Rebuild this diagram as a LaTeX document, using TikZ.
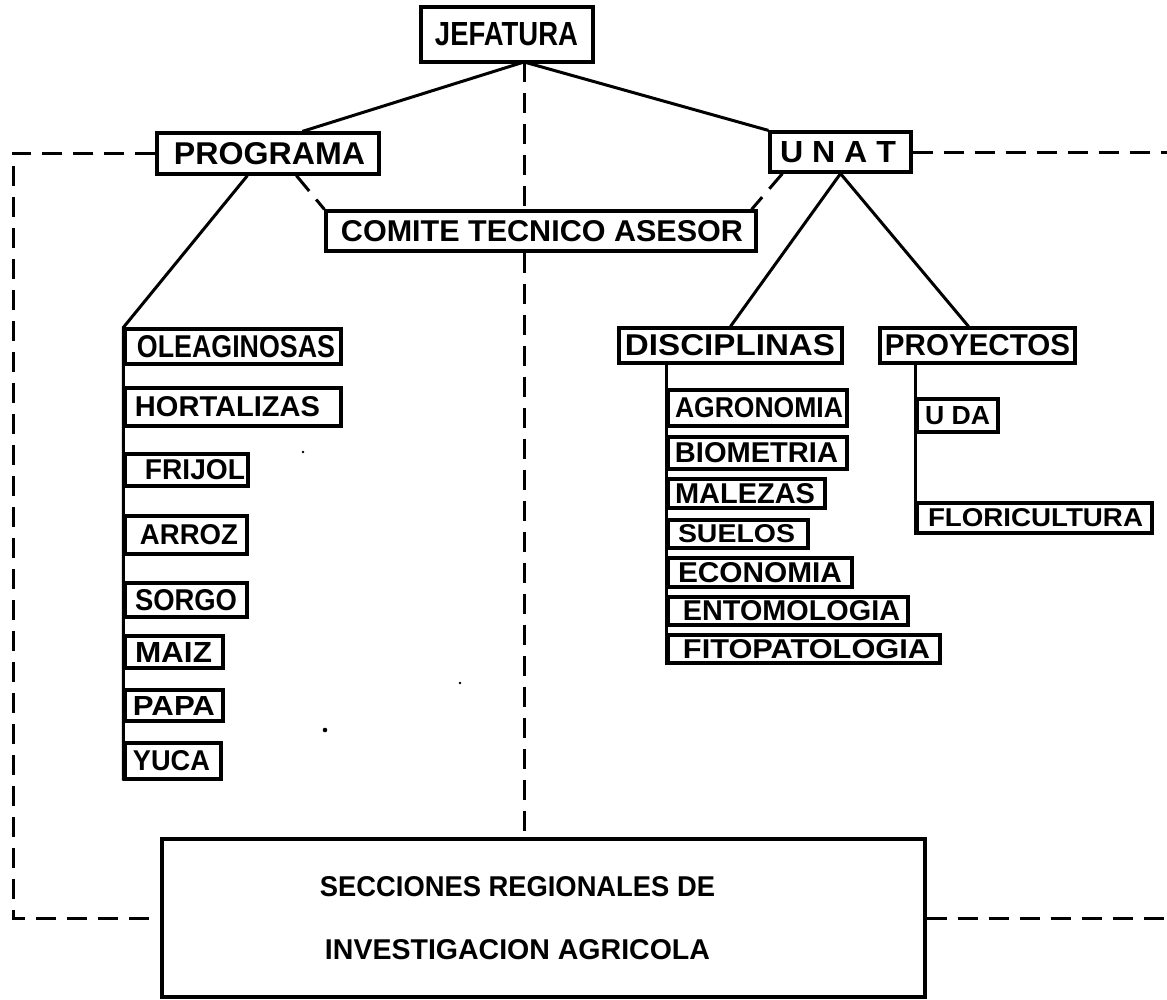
\documentclass[tikz,border=0pt]{standalone}
\usepackage{fontspec}
\setmainfont{Liberation Sans}
\usepackage{graphicx}
\usetikzlibrary{calc}
\tikzset{
  bxs/.style={draw, rectangle, line width=3.2pt, inner sep=0pt, fill=white, font=\bfseries},
  ln/.style={line width=3pt},
  dsh/.style={line width=3pt, dash pattern=on 20pt off 11pt},
}
% name, x1, y1, x2, y2, text-left, text-right, cap height, text
\newcommand\bx[9]{%
  \pgfmathsetmacro\bxcx{(#2+#4)/2}%
  \pgfmathsetmacro\bxcy{(#3+#5)/2}%
  \pgfmathsetmacro\bxw{#4-#2}%
  \pgfmathsetmacro\bxh{#5-#3}%
  \pgfmathsetmacro\bxtw{#7-#6}%
  \pgfmathsetmacro\bxa{2*(#6-\bxcx)+\bxtw}%
  \node[bxs, minimum width=\bxw pt, minimum height=\bxh pt] (#1) at (\bxcx,\bxcy)
    {\hspace*{\bxa pt}\resizebox{\bxtw pt}{#8pt}{#9}};%
}
\begin{document}
\begin{tikzpicture}[x=1pt,y=-1pt]
\useasboundingbox (0,0) rectangle (1167,999);

% top level
\bx{jef}{421}{7}{593}{62}{435}{578}{23}{JEFATURA}
\bx{prog}{157}{133}{379}{174}{174}{365}{22}{PROGRAMA}
\bx{unat}{770}{132}{911}{172}{780}{896}{21}{U N A T}
\bx{comite}{326}{211}{756}{251}{341}{743}{21}{COMITE TECNICO ASESOR}
\bx{disc}{619}{328}{842}{363}{625}{835}{21}{DISCIPLINAS}
\bx{proy}{880}{328}{1075}{363}{885}{1070}{21}{PROYECTOS}

% programa items
\bx{ole}{125}{329}{341}{364}{137}{335}{22}{OLEAGINOSAS}
\bx{hort}{125}{388}{341}{426}{135}{320}{20}{HORTALIZAS}
\bx{frij}{125}{454}{248}{486}{145}{245}{20}{FRIJOL}
\bx{arroz}{125}{516}{247}{554}{140}{238}{20}{ARROZ}
\bx{sorgo}{125}{583}{247}{617}{135}{237}{21}{SORGO}
\bx{maiz}{125}{636}{223}{668}{135}{212}{20}{MAIZ}
\bx{papa}{125}{690}{223}{721}{133}{215}{19}{PAPA}
\bx{yuca}{125}{743}{221}{779}{133}{210}{20}{YUCA}

% disciplinas items
\bx{agro}{668}{390}{847}{426}{675}{843}{20}{AGRONOMIA}
\bx{bio}{668}{437}{847}{469}{675}{838}{20}{BIOMETRIA}
\bx{mal}{668}{479}{825}{508}{675}{815}{20}{MALEZAS}
\bx{suel}{668}{520}{808}{548}{678}{795}{18}{SUELOS}
\bx{eco}{668}{558}{852}{587}{678}{842}{20}{ECONOMIA}
\bx{ento}{668}{597}{908}{625}{683}{900}{20}{ENTOMOLOGIA}
\bx{fito}{668}{635}{940}{663}{683}{930}{19}{FITOPATOLOGIA}

% proyectos items
\bx{uda}{917}{399}{998}{432}{925}{990}{18}{U DA}
\bx{flor}{917}{503}{1152}{533}{928}{1143}{18}{FLORICULTURA}

% regional sections
\node[bxs, minimum width=763pt, minimum height=158pt, align=center,
      font=\bfseries\fontsize{10}{63}\selectfont] (secc) at (543.5,918)
  {\hspace*{-52pt}\resizebox{395pt}{20pt}{SECCIONES REGIONALES DE}\\
   \hspace*{-52pt}\resizebox{385pt}{20pt}{INVESTIGACION AGRICOLA}};

% helper coordinates
\coordinate (jefa) at (524,62);
\coordinate (lx) at (13,0);
\coordinate (rx) at (1167,0);

% solid connectors
\draw[ln] ($(prog.north west)+(147,0)$) -- (jefa) -- (unat.north west);
\draw[ln] ($(prog.south west)+(92,0)$) -- (ole.north west) -- (yuca.south west);
\draw[ln] (disc.north) -- (unat.south) -- ($(proy.north)+(-9,0)$);
\draw[ln] (disc.south -| fito.west) -- (fito.south west);
\draw[ln] (proy.south -| flor.west) -- (flor.south west);

% dashed connectors
\draw[dsh] (jefa) -- (jefa |- comite.north);
\draw[dsh] (jefa |- comite.south) -- (jefa |- secc.north);
\draw[dsh] ($(prog.south west)+(141,0)$) -- (comite.north west);
\draw[dsh] ($(unat.south west)+(14,0)$) -- ($(comite.north east)+(-6,0)$);
\draw[dsh] (prog.west) -| (lx |- secc.west) -- (secc.west);
\draw[dsh] (unat.east) -- (rx |- unat.east);
\draw[dsh] (secc.east) -- (rx |- secc.east);

% specks
\fill (303,452) circle (1.3pt);
\fill (460,683) circle (1.3pt);
\fill (325,730) circle (2.3pt);
\end{tikzpicture}
\end{document}
